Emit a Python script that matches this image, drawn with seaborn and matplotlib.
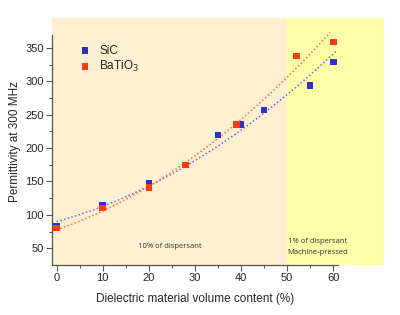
import numpy as np
import pandas as pd
import matplotlib
matplotlib.use("Agg")
import matplotlib.pyplot as plt
import seaborn as sns

sns.set_theme(style="ticks")
plt.rcParams['font.family'] = ['Liberation Sans', 'DejaVu Sans']

sic_x = [0, 10, 20, 35, 40, 45, 55, 60]
sic_y = [83, 114, 147, 220, 235, 257, 294, 329]
bto_x = [0, 10, 20, 28, 39, 52, 60]
bto_y = [80, 110, 141, 175, 235, 338, 359]

# dotted trend curves at a few x positions
sic_fit_x = [0, 10, 20, 28, 40, 50, 60.7]
sic_fit_y = [89, 115, 142, 173, 227, 280, 346]
bto_fit_x = [0, 10, 20, 28, 40, 50, 59.3]
bto_fit_y = [77, 109, 140, 177, 242, 312, 370]

sic = pd.DataFrame({'x': sic_x, 'y': sic_y})
bto = pd.DataFrame({'x': bto_x, 'y': bto_y})
sic_fit = pd.DataFrame({'x': sic_fit_x, 'y': sic_fit_y})
bto_fit = pd.DataFrame({'x': bto_fit_x, 'y': bto_fit_y})

blue = '#2f2fc4'
red = '#ff3a12'

fig = plt.figure(figsize=(4, 3.15), dpi=100)
ax = fig.add_axes([0.13, 0.159, 0.83, 0.784])

# background regions
ax.axvspan(-1, 50, color='#fdf0d0', zorder=0, lw=0)
ax.axvspan(50, 71, color='#ffffaa', zorder=0, lw=0)

# quadratic trend lines (smoothed through the read trend points)
sns.regplot(data=sic_fit, x='x', y='y', order=2, ci=None, scatter=False, ax=ax,
            line_kws=dict(color='#6a6ad0', lw=1.1, ls=(0, (1, 1.5))))
sns.regplot(data=bto_fit, x='x', y='y', order=2, ci=None, scatter=False, ax=ax,
            line_kws=dict(color='#ff6a40', lw=1.1, ls=(0, (1, 1.5))))

sns.scatterplot(data=sic, x='x', y='y', marker='s', s=22, color=blue,
                edgecolor='none', ax=ax, zorder=3, label='SiC')
sns.scatterplot(data=bto, x='x', y='y', marker='s', s=22, color=red,
                edgecolor='none', ax=ax, zorder=3, label='BaTiO$_3$')

ax.set_xlim(-1, 71)
ax.set_ylim(25, 395)
ax.set_xticks([0, 10, 20, 30, 40, 50, 60])
ax.set_xticks(np.arange(5, 60, 10), minor=True)
ax.set_yticks([50, 100, 150, 200, 250, 300, 350])
ax.set_yticks(np.arange(75, 370, 50), minor=True)
ax.spines['top'].set_visible(False)
ax.spines['right'].set_visible(False)
ax.spines['left'].set_bounds(25, 370)
ax.spines['bottom'].set_bounds(-1, 61)
for s in ['left', 'bottom']:
    ax.spines[s].set_color('#555555')
    ax.spines[s].set_linewidth(0.9)
ax.tick_params(which='major', length=4, width=0.8, labelsize=8, color='#555555', pad=2)
ax.tick_params(which='minor', length=2, width=0.8, color='#555555')

ax.set_xlabel('Dielectric material volume content (%)', fontsize=8.5)
ax.xaxis.set_label_coords(0.43, -0.115)
ax.set_ylabel('Permittivity at 300 MHz', fontsize=8.5, labelpad=3)

ax.legend(loc='upper left', bbox_to_anchor=(0.05, 0.935), frameon=False,
          fontsize=8.5, handletextpad=0.7, markerscale=1.0, labelspacing=0.15,
          handlelength=1.0)

ax.text(24.5, 52, '10% of dispersant', fontsize=5.5, family=['Open Sans', 'DejaVu Sans'],
        color='#333333', ha='center', va='center')
ax.text(50.1, 60, '1% of dispersant', fontsize=5.5, family=['Open Sans', 'DejaVu Sans'],
        color='#333333', ha='left', va='center')
ax.text(50.1, 44, 'Machine-pressed', fontsize=5.5, family=['Open Sans', 'DejaVu Sans'],
        color='#333333', ha='left', va='center')

fig.savefig('out.png', dpi=100)
